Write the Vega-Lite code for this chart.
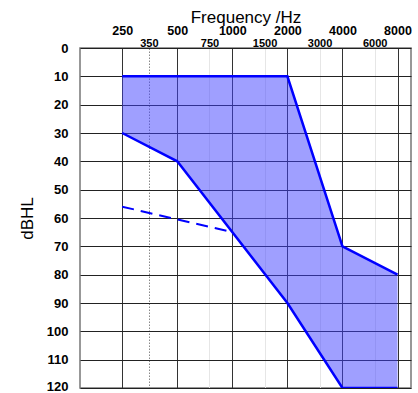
{
  "$schema": "https://vega.github.io/schema/vega-lite/v6.json",
  "width": 331,
  "height": 340,
  "autosize": {"type": "none"},
  "padding": {"left": 80, "top": 48, "right": 7, "bottom": 5},
  "background": "white",
  "config": {
    "font": "Liberation Sans",
    "view": {"stroke": "#777", "strokeWidth": 1.5}
  },
  "datasets": {
    "band": [
      {"f": 250, "hi": 10, "lo": 30},
      {"f": 500, "hi": 10, "lo": 40},
      {"f": 2000, "hi": 10, "lo": 90},
      {"f": 4000, "hi": 70, "lo": 120},
      {"f": 8000, "hi": 80, "lo": 120}
    ],
    "upper": [
      {"f": 250, "db": 10},
      {"f": 2000, "db": 10},
      {"f": 4000, "db": 70},
      {"f": 8000, "db": 80}
    ],
    "lower": [
      {"f": 250, "db": 30},
      {"f": 500, "db": 40},
      {"f": 2000, "db": 90},
      {"f": 4000, "db": 120},
      {"f": 8000, "db": 120}
    ],
    "dashed": [
      {"f": 250, "db": 56},
      {"f": 1000, "db": 65}
    ]
  },
  "encoding": {
    "x": {
      "field": "f",
      "type": "quantitative",
      "scale": {"type": "log", "domain": [147, 9480], "nice": false},
      "axis": {
        "orient": "top",
        "title": "Frequency /Hz",
        "titleFont": "Liberation Sans",
        "titleFontSize": 17,
        "titleFontWeight": "normal",
        "titleColor": "black",
        "titleX": 165.5,
        "titleY": -26,
        "titleBaseline": "alphabetic",
        "titleAlign": "center",
        "values": [250, 350, 500, 750, 1000, 1500, 2000, 3000, 4000, 6000, 8000],
        "format": "d",
        "labelOverlap": false,
        "labelFlush": false,
        "labelBound": false,
        "labelColor": "black",
        "labelBaseline": "alphabetic",
        "labelFontWeight": "bold",
        "labelFontSize": {"condition": {"test": "indexof([250,500,1000,2000,4000,8000], datum.value) >= 0", "value": 12.5}, "value": 11},
        "labelPadding": {"condition": {"test": "indexof([250,500,1000,2000,4000,8000], datum.value) >= 0", "value": 14}, "value": 2},
        "ticks": false,
        "tickSize": 0,
        "domain": false,
        "grid": true,
        "gridOpacity": 1,
        "gridWidth": 1,
        "gridColor": {"condition": [
          {"test": "datum.value == 350", "value": "#888"},
          {"test": "indexof([250,500,1000,2000,4000,8000], datum.value) >= 0", "value": "#333"}
        ], "value": "#e6e6e6"},
        "gridDash": {"condition": {"test": "datum.value == 350", "value": [1.5, 1.5]}, "value": []}
      }
    },
    "y": {
      "type": "quantitative",
      "scale": {"domain": [0, 120], "reverse": true, "nice": false},
      "axis": {
        "title": "dBHL",
        "titleFont": "Liberation Sans",
        "titleFontSize": 17,
        "titleFontWeight": "normal",
        "titleColor": "black",
        "titleAngle": -90,
        "titleX": -53,
        "titleY": 170,
        "titleAlign": "center",
        "titleBaseline": "middle",
        "values": [0, 10, 20, 30, 40, 50, 60, 70, 80, 90, 100, 110, 120],
        "labelFontSize": 13,
        "labelFontWeight": "bold",
        "labelColor": "black",
        "labelPadding": 12,
        "labelOffset": {"condition": {"test": "datum.value == 120", "value": -2}, "value": 0},
        "labelOverlap": false,
        "labelFlush": false,
        "labelBound": false,
        "ticks": false,
        "tickSize": 0,
        "domain": false,
        "grid": true,
        "gridColor": "#222",
        "gridOpacity": 1,
        "gridWidth": 1
      }
    }
  },
  "layer": [
    {
      "data": {"name": "band"},
      "mark": {"type": "area", "color": "#4040ff", "opacity": 0.5},
      "encoding": {
        "y": {"field": "hi", "type": "quantitative"},
        "y2": {"field": "lo"}
      }
    },
    {
      "data": {"name": "upper"},
      "mark": {"type": "line", "color": "#0000ff", "strokeWidth": 2.5, "clip": true},
      "encoding": {"y": {"field": "db", "type": "quantitative"}}
    },
    {
      "data": {"name": "lower"},
      "mark": {"type": "line", "color": "#0000ff", "strokeWidth": 2.5, "clip": true},
      "encoding": {"y": {"field": "db", "type": "quantitative"}}
    },
    {
      "data": {"name": "dashed"},
      "mark": {"type": "line", "color": "#0000ff", "strokeWidth": 2, "strokeDash": [12, 7]},
      "encoding": {"y": {"field": "db", "type": "quantitative"}}
    }
  ]
}
